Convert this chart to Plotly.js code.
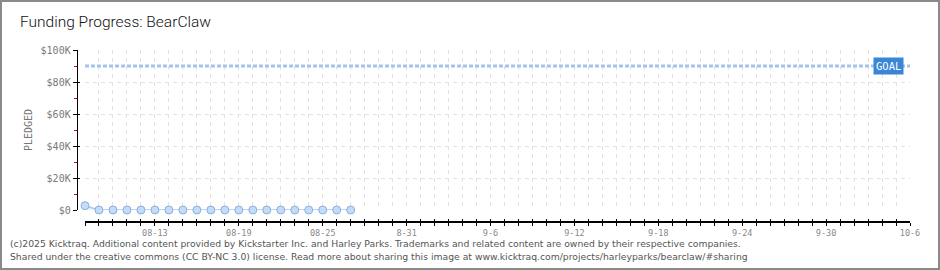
<!DOCTYPE html>
<html>
<head>
<meta charset="utf-8">
<script src="https://cdn.plot.ly/plotly-3.0.1.min.js"></script>
<style>
html,body{margin:0;padding:0;background:#fff;}
#wrap{position:relative;width:940px;height:270px;box-sizing:border-box;border:2px solid #8a8a8a;overflow:hidden;}
#chart{position:absolute;left:-2px;top:-2px;width:940px;height:270px;}
</style>
</head>
<body>
<div id="wrap"><div id="chart"></div></div>
<script>
// ---- data ----
const dates = ["2025-08-08","2025-08-09","2025-08-10","2025-08-11","2025-08-12","2025-08-13","2025-08-14",
  "2025-08-15","2025-08-16","2025-08-17","2025-08-18","2025-08-19","2025-08-20","2025-08-21",
  "2025-08-22","2025-08-23","2025-08-24","2025-08-25","2025-08-26","2025-08-27"];
const pledged = [2700,0,0,0,0,0,0,0,0,0,0,0,0,0,0,0,0,0,0,0];
const goal = 90000;
const campaignStart = "2025-08-08";
const campaignEnd = "2025-10-06";
const xTickVals = ["2025-08-13","2025-08-19","2025-08-25","2025-08-31","2025-09-06","2025-09-12","2025-09-18","2025-09-24","2025-09-30","2025-10-06"];
const xTickText = ["08-13","08-19","08-25","8-31","9-6","9-12","9-18","9-24","9-30","10-6"];
const yTickVals = [0,20000,40000,60000,80000,100000];
const yTickText = ["$0","$20K","$40K","$60K","$80K","$100K"];
const titleText = "Funding Progress: BearClaw";
const footer1 = "(c)2025 Kicktraq. Additional content provided by Kickstarter Inc. and Harley Parks. Trademarks and related content are owned by their respective companies.";
const footer2 = "Shared under the creative commons (CC BY-NC 3.0) license. Read more about sharing this image at www.kicktraq.com/projects/harleyparks/bearclaw/#sharing";

const mono = "DejaVu Sans Mono, monospace";
const gridCol = '#e2e2e2';
const traces = [
  {
    x: [campaignStart, campaignEnd], y: [goal, goal], type: 'scatter', mode: 'lines',
    line: {color: '#a3c4ec', width: 3, dash: '4px,2px'}, hoverinfo: 'skip', cliponaxis: false
  },
  {
    x: dates, y: pledged, type: 'scatter', mode: 'lines+markers',
    fill: 'tozeroy', fillcolor: 'rgba(220,234,250,0.6)',
    line: {color: '#a8c8ee', width: 1.5},
    marker: {size: 8, color: '#c3dcf7', line: {color: '#8cb0dc', width: 1}},
    cliponaxis: false
  },
  { x: [campaignStart], y: [0], xaxis: 'x2', yaxis: 'y2', type: 'scatter', mode: 'markers', marker: {opacity: 0}, hoverinfo: 'skip' }
];

const W = 840;
const layout = {
  width: 940, height: 270,
  margin: {l: 70, r: 30, t: 50, b: 49, pad: 0},
  paper_bgcolor: '#fff', plot_bgcolor: '#fff',
  showlegend: false,
  title: {text: titleText, x: 20/940, xanchor: 'left', xref: 'container', y: 1 - 22/270, yref: 'container', yanchor: 'middle',
          font: {family: 'Roboto, sans-serif', weight: 300, size: 15.5, color: '#111'}},
  xaxis: {
    type: 'date', range: [campaignStart, campaignEnd], domain: [15/W, 1],
    anchor: 'free', position: 0,
    showline: true, linecolor: '#000', linewidth: 1.5,
    tickmode: 'array', tickvals: xTickVals, ticktext: xTickText,
    ticks: 'outside', ticklen: 3, tickcolor: '#000', tickwidth: 1,
    tickfont: {family: mono, size: 8.5, color: '#888'},
    showgrid: true, gridcolor: gridCol, griddash: '4px,4px', gridwidth: 1,
    minor: {dtick: 86400000, tick0: campaignStart, ticks: 'outside', ticklen: 3, tickcolor: '#000', tickwidth: 1,
            showgrid: true, gridcolor: gridCol, griddash: '4px,4px', gridwidth: 1},
    zeroline: false, fixedrange: true
  },
  xaxis2: {
    type: 'date', range: [campaignStart, campaignEnd], domain: [15/W, 1],
    overlaying: 'x', anchor: 'free', position: 0,
    showline: false, showgrid: false, showticklabels: false,
    tickmode: 'linear', tick0: campaignStart, dtick: 86400000,
    ticks: 'inside', ticklen: 2, tickcolor: '#000', tickwidth: 1, zeroline: false
  },
  yaxis: {
    range: [0, 100000], domain: [11/171, 1],
    anchor: 'free', position: 6.7/W,
    showline: true, linecolor: '#000', linewidth: 1.5,
    tickmode: 'array', tickvals: yTickVals, ticktext: yTickText,
    ticks: 'outside', ticklen: 4, tickcolor: '#000', tickwidth: 1,
    tickfont: {family: mono, size: 10, color: '#7a7a7a'},
    showgrid: true, gridcolor: gridCol, griddash: '4px,4px', gridwidth: 1,
    minor: {dtick: 10000, tick0: 0, ticks: 'outside', ticklen: 3, tickcolor: '#e00000', tickwidth: 1, showgrid: false},
    zeroline: false, fixedrange: true
  },
  yaxis2: {
    range: [0, 100000], domain: [11/171, 1], overlaying: 'y',
    anchor: 'free', position: 6.7/W,
    showline: false, showgrid: false, showticklabels: false,
    tickmode: 'array', tickvals: yTickVals,
    ticks: 'inside', ticklen: 2, tickcolor: '#000', tickwidth: 1, zeroline: false
  },
  annotations: [
    {text: 'GOAL', x: campaignEnd, y: goal, xref: 'x', yref: 'y', xanchor: 'right', yanchor: 'middle', xshift: -6,
     showarrow: false, bgcolor: '#3a86d6', borderpad: 2, font: {family: mono, size: 10.5, color: '#fff'}},
    {text: 'PLEDGED', textangle: -90, x: (28-70)/W, y: 0.5 + (11/171)/2, xref: 'paper', yref: 'paper',
     xanchor: 'center', yanchor: 'middle', showarrow: false, font: {family: mono, size: 10, color: '#777'}},
    {text: footer1, x: (8-70)/W, y: (221-243)/171, xref: 'paper', yref: 'paper', xanchor: 'left', yanchor: 'middle',
     showarrow: false, font: {family: 'DejaVu Sans, Verdana, sans-serif', size: 9.25, color: '#555'}},
    {text: footer2, x: (8-70)/W, y: (221-256)/171, xref: 'paper', yref: 'paper', xanchor: 'left', yanchor: 'middle',
     showarrow: false, font: {family: 'DejaVu Sans, Verdana, sans-serif', size: 9.25, color: '#555'}}
  ],
  hovermode: false
};
Plotly.newPlot('chart', traces, layout, {staticPlot: true, displayModeBar: false});
</script>
</body>
</html>
